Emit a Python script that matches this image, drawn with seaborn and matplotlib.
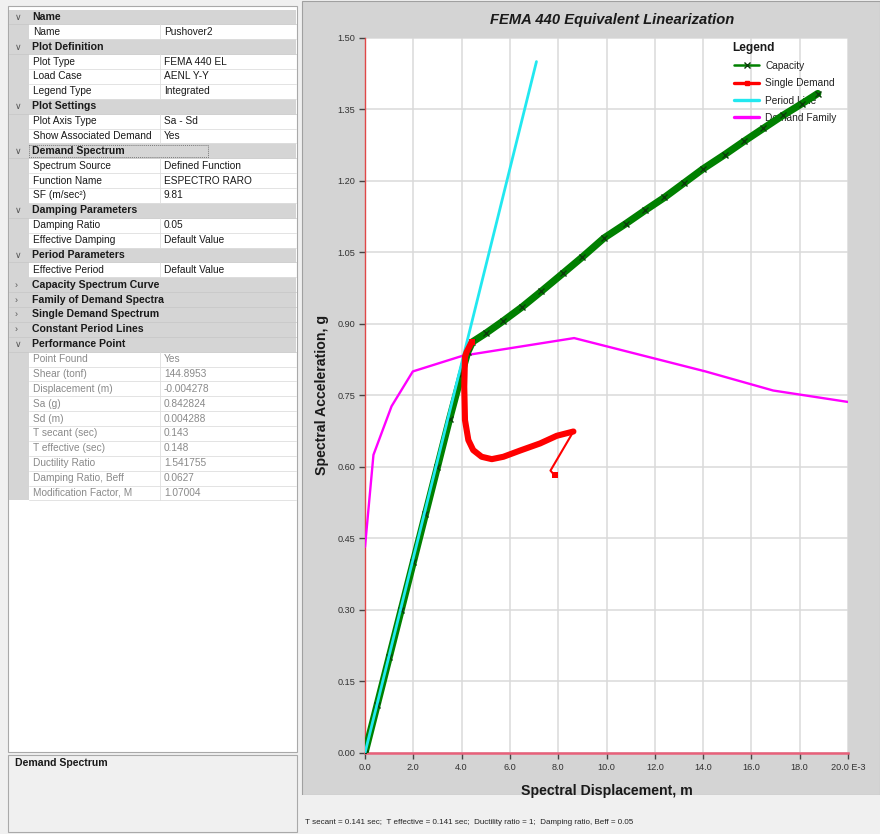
import matplotlib
matplotlib.use("Agg")
import matplotlib.pyplot as plt
from matplotlib.lines import Line2D
from matplotlib.patches import Rectangle
import pandas as pd
import seaborn as sns

# ---------------------------------------------------------------- data
# Spectral displacement in 1e-3 m, spectral acceleration in g
capacity_sd = [0.0, 0.5, 1.0, 1.5, 2.0, 2.5, 3.0, 3.5, 4.0, 4.25, 4.45, 5.0, 5.7,
               6.5, 7.3, 8.2, 9.0, 9.9, 10.8, 11.6, 12.4, 13.2, 14.0, 14.9, 15.7,
               16.5, 17.3, 18.1, 18.75]
capacity_sa = [0.0, 0.10, 0.20, 0.30, 0.40, 0.50, 0.60, 0.70, 0.795, 0.840, 0.862,
               0.880, 0.905, 0.935, 0.968, 1.006, 1.040, 1.080, 1.110, 1.138, 1.165,
               1.195, 1.225, 1.255, 1.283, 1.310, 1.337, 1.362, 1.383]

single_sd = [4.42, 4.21, 4.14, 4.11, 4.14, 4.28, 4.48, 4.83, 5.25, 5.73, 6.42,
             7.25, 7.94, 8.63, 7.68, 7.85]
single_sa = [0.862, 0.841, 0.831, 0.768, 0.698, 0.656, 0.635, 0.621, 0.616, 0.621,
             0.634, 0.649, 0.665, 0.674, 0.592, 0.582]

period_sd = [0.0, 7.1]
period_sa = [0.0, 1.45]

family_sd = [0.0, 0.35, 1.1, 1.98, 4.05, 8.66, 14.1, 16.9, 20.0]
family_sa = [0.432, 0.625, 0.727, 0.800, 0.833, 0.870, 0.800, 0.760, 0.736]

x_ticks = [0, 2, 4, 6, 8, 10, 12, 14, 16, 18, 20]
x_tick_labels = ["0.0", "2.0", "4.0", "6.0", "8.0", "10.0", "12.0", "14.0",
                 "16.0", "18.0", "20.0 E-3"]
y_ticks = [0.0, 0.15, 0.30, 0.45, 0.60, 0.75, 0.90, 1.05, 1.20, 1.35, 1.50]
y_tick_labels = ["0.00", "0.15", "0.30", "0.45", "0.60", "0.75", "0.90", "1.05",
                 "1.20", "1.35", "1.50"]

legend_labels = ["Capacity", "Single Demand", "Period Line", "Demand Family"]

# property grid: (kind, label, value); kind: H = expanded header,
# C = collapsed header, P = property, R = read-only property
grid_rows = [
    ("H", "Name", ""),
    ("P", "Name", "Pushover2"),
    ("H", "Plot Definition", ""),
    ("P", "Plot Type", "FEMA 440 EL"),
    ("P", "Load Case", "AENL Y-Y"),
    ("P", "Legend Type", "Integrated"),
    ("H", "Plot Settings", ""),
    ("P", "Plot Axis Type", "Sa - Sd"),
    ("P", "Show Associated Demand", "Yes"),
    ("H", "Demand Spectrum", ""),
    ("P", "Spectrum Source", "Defined Function"),
    ("P", "Function Name", "ESPECTRO RARO"),
    ("P", "SF (m/sec²)", "9.81"),
    ("H", "Damping Parameters", ""),
    ("P", "Damping Ratio", "0.05"),
    ("P", "Effective Damping", "Default Value"),
    ("H", "Period Parameters", ""),
    ("P", "Effective Period", "Default Value"),
    ("C", "Capacity Spectrum Curve", ""),
    ("C", "Family of Demand Spectra", ""),
    ("C", "Single Demand Spectrum", ""),
    ("C", "Constant Period Lines", ""),
    ("H", "Performance Point", ""),
    ("R", "Point Found", "Yes"),
    ("R", "Shear (tonf)", "144.8953"),
    ("R", "Displacement (m)", "-0.004278"),
    ("R", "Sa (g)", "0.842824"),
    ("R", "Sd (m)", "0.004288"),
    ("R", "T secant (sec)", "0.143"),
    ("R", "T effective (sec)", "0.148"),
    ("R", "Ductility Ratio", "1.541755"),
    ("R", "Damping Ratio, Beff", "0.0627"),
    ("R", "Modification Factor, M", "1.07004"),
]

status_text = ("T secant = 0.141 sec;  T effective = 0.141 sec;  Ductility ratio = 1;  "
               "Damping ratio, Beff = 0.05")

# ---------------------------------------------------------------- figure
sns.set_theme(style="white")
plt.rcParams["font.family"] = ["Liberation Sans", "DejaVu Sans"]

W, H = 880, 834
fig = plt.figure(figsize=(W / 100, H / 100), dpi=100)
fig.patch.set_facecolor("#f0f0f0")

# pixel-space canvas for the window chrome
ui = fig.add_axes([0, 0, 1, 1], zorder=0)
ui.set_xlim(0, W)
ui.set_ylim(H, 0)
ui.axis("off")


def rect(x0, y0, x1, y1, fc, ec="none", lw=0.8, **kw):
    ui.add_patch(Rectangle((x0, y0), x1 - x0, y1 - y0, facecolor=fc,
                           edgecolor=ec, linewidth=lw, **kw))


# left property panel
rect(0, 0, 300, H, "#f0f0f0")
rect(8, 6, 297, 752, "white", ec="#a9a9a9")
row_h = 14.875
top = 9.5
col_x = 160
for i, (kind, label, value) in enumerate(grid_rows):
    y0 = top + i * row_h
    y1 = y0 + row_h
    yc = (y0 + y1) / 2
    if kind in ("H", "C"):
        rect(9, y0, 296, y1, "#d5d5d5")
        ui.plot([9, 296], [y1, y1], color="#c8c8c8", lw=0.6)
        ui.text(15, yc + 0.5, "∨" if kind == "H" else "›", fontsize=6.5,
                color="#555555", ha="left", va="center")
        ui.text(32, yc, label, fontsize=7.6, fontweight="bold", color="#1a1a1a",
                ha="left", va="center")
        if label == "Demand Spectrum":
            rect(29, y0 + 1.5, 208, y1 - 1.5, "none", ec="#7a7a7a", lw=0.7,
                 linestyle=(0, (1, 1)))
    else:
        rect(9, y0, 29, y1, "#d5d5d5")
        ui.plot([29, 296], [y1, y1], color="#dedede", lw=0.6)
        ui.plot([col_x, col_x], [y0, y1], color="#dedede", lw=0.6)
        tc = "#8a8a8a" if kind == "R" else "#1a1a1a"
        ui.text(33, yc, label, fontsize=7.3, color=tc, ha="left", va="center")
        ui.text(col_x + 4, yc, value, fontsize=7.3, color=tc, ha="left", va="center")

# description box under the grid
rect(8, 755, 297, 832, "#f0f0f0", ec="#a9a9a9")
ui.text(15, 763, "Demand Spectrum", fontsize=7.6, fontweight="bold",
        color="#1a1a1a", ha="left", va="center")

# chart panel and status bar
rect(302, 1, 880, 795, "#d4d4d4", ec="#a0a0a0")
rect(302, 795, 880, 834, "#f0f0f0")
ui.text(305, 823, status_text, fontsize=5.8, color="#222222", ha="left", va="center")

# ---------------------------------------------------------------- plot axes
x0_px, x1_px = 365, 848
y_top_px, y_bot_px = 37.75, 752.8
ax = fig.add_axes([x0_px / W, 1 - y_bot_px / H, (x1_px - x0_px) / W,
                   (y_bot_px - y_top_px) / H], zorder=2)
ax.set_facecolor("white")

cap = pd.DataFrame({"sd": capacity_sd, "sa": capacity_sa})
single = pd.DataFrame({"sd": single_sd, "sa": single_sa})
period = pd.DataFrame({"sd": period_sd, "sa": period_sa})
family = pd.DataFrame({"sd": family_sd, "sa": family_sa})

sns.lineplot(data=family, x="sd", y="sa", sort=False, estimator=None, ax=ax,
             color="#ff00ff", lw=1.7, zorder=3)
sns.lineplot(data=cap, x="sd", y="sa", sort=False, estimator=None, ax=ax,
             color="#008000", lw=5.2, marker="x", markersize=5,
             markeredgecolor="#0b3d0b", markeredgewidth=1.0, zorder=4)
sns.lineplot(data=period, x="sd", y="sa", sort=False, estimator=None, ax=ax,
             color="#22e8f0", lw=2.0, zorder=5)

# thick loop of the demand trace, thin return leg
split = single["sd"].idxmax() + 1
sns.lineplot(data=single.iloc[:split], x="sd", y="sa", sort=False, estimator=None,
             ax=ax, color="#ff0000", lw=4.4, zorder=6)
sns.lineplot(data=single.iloc[split - 1:], x="sd", y="sa", sort=False,
             estimator=None, ax=ax, color="#ff0000", lw=1.5, zorder=6)
ends = single.iloc[[0, len(single) - 1]]
sns.scatterplot(data=ends, x="sd", y="sa", ax=ax, color="#ff0000", marker="s",
                s=22, linewidth=0, zorder=7)

ax.set_xlim(0, 20)
ax.set_ylim(0, 1.5)
ax.set_xticks(x_ticks)
ax.set_xticklabels(x_tick_labels)
ax.set_yticks(y_ticks)
ax.set_yticklabels(y_tick_labels)
ax.grid(True, color="#dadada", lw=1.1)
ax.set_axisbelow(True)
ax.tick_params(axis="both", direction="out", length=4, width=1, color="#444444",
               labelsize=6.6, labelcolor="#333333", pad=3,
               left=True, bottom=True)
for side in ("top", "right"):
    ax.spines[side].set_visible(False)
ax.spines["left"].set_color("#e04848")
ax.spines["left"].set_linewidth(1.0)
ax.spines["bottom"].set_color("#e8607a")
ax.spines["bottom"].set_linewidth(1.8)

ax.set_xlabel("Spectral Displacement, m", fontsize=10.2, fontweight="bold",
              color="#1a1a1a", labelpad=9)
ax.set_ylabel("Spectral Acceleration, g", fontsize=10.2, fontweight="bold",
              color="#1a1a1a", labelpad=6)
fig.text(612 / W, 1 - 20 / H, "FEMA 440 Equivalent Linearization", fontsize=10.6,
         fontweight="bold", fontstyle="italic", color="#1a1a1a",
         ha="center", va="center")

# legend, drawn under the curves
handles = [
    Line2D([], [], color="#008000", lw=1.8, marker="x", markersize=4,
           markeredgecolor="#0b3d0b"),
    Line2D([], [], color="#ff0000", lw=2.4, marker="s", markersize=3.5),
    Line2D([], [], color="#22e8f0", lw=2.4),
    Line2D([], [], color="#ff00ff", lw=2.4),
]
leg = ax.legend(handles, legend_labels, loc="upper left",
                bbox_to_anchor=(734 / W, 1 - 61 / H), bbox_transform=fig.transFigure,
                frameon=False, fontsize=7.3, handlelength=2.5, handletextpad=0.6,
                labelspacing=0.72, borderaxespad=0, borderpad=0)
for t in leg.get_texts():
    t.set_color("#222222")
leg.set_zorder(1)
fig.text(732 / W, 1 - 48 / H, "Legend", fontsize=8.6, fontweight="bold",
         color="#1a1a1a", ha="left", va="center")

fig.savefig("out.png", dpi=100, facecolor=fig.get_facecolor())
